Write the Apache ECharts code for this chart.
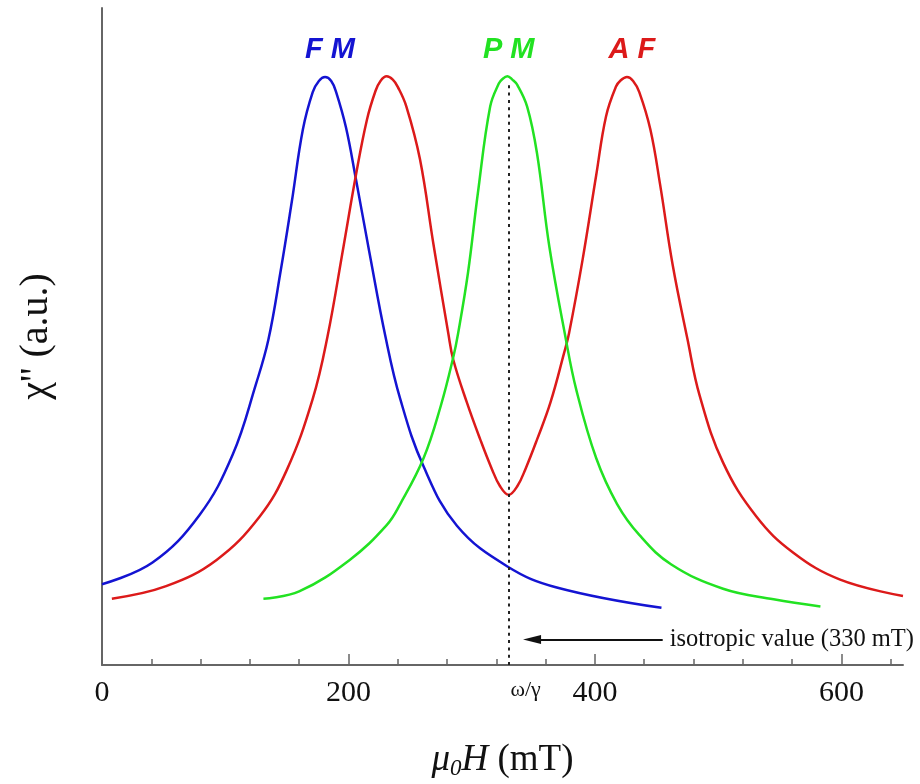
<!DOCTYPE html>
<html>
<head>
<meta charset="utf-8">
<script src="https://cdn.jsdelivr.net/npm/echarts@6/dist/echarts.min.js"></script>
<style>
  html, body { margin: 0; padding: 0; background: #ffffff; }
  #chart { width: 920px; height: 784px; }
</style>
</head>
<body>
<div id="chart"></div>
<script>
// Absorption spectra chi'' versus applied field (mT)
const fieldFM = [0, 41, 79, 106, 125, 135, 145, 154, 163, 171, 176, 181, 186, 190, 198, 206, 217, 230, 242, 261, 288, 329, 369, 454];
const chiFM   = [0.123, 0.156, 0.228, 0.320, 0.428, 0.495, 0.600, 0.705, 0.815, 0.872, 0.889, 0.895, 0.889, 0.872, 0.818, 0.740, 0.628, 0.500, 0.405, 0.302, 0.212, 0.150, 0.118, 0.087];

const fieldAF = [8, 52, 93, 128, 150, 171, 183, 196, 206, 215, 222, 226, 231, 236, 240, 247, 258, 269, 281, 285, 296, 307, 316, 323, 330, 337, 344, 353, 364, 375, 379, 390, 401, 409, 417, 421, 426, 431, 436, 445, 453, 463, 475, 485, 504, 531, 561, 599, 650];
const chiAF   = [0.101, 0.120, 0.160, 0.226, 0.297, 0.405, 0.500, 0.637, 0.745, 0.830, 0.874, 0.889, 0.896, 0.891, 0.880, 0.850, 0.770, 0.640, 0.505, 0.465, 0.400, 0.343, 0.300, 0.272, 0.259, 0.272, 0.300, 0.343, 0.400, 0.475, 0.505, 0.617, 0.745, 0.835, 0.880, 0.890, 0.895, 0.889, 0.872, 0.815, 0.730, 0.610, 0.497, 0.410, 0.308, 0.226, 0.171, 0.130, 0.105];

const fieldPM = [131, 160, 201, 231, 242, 261, 275, 285, 289, 297, 305, 315, 322, 325, 329, 333, 337, 345, 353, 363, 376, 385, 401, 418, 436, 462, 504, 545, 583];
const chiPM   = [0.101, 0.112, 0.160, 0.213, 0.245, 0.315, 0.395, 0.468, 0.505, 0.597, 0.718, 0.850, 0.885, 0.892, 0.896, 0.891, 0.883, 0.850, 0.779, 0.637, 0.500, 0.418, 0.315, 0.245, 0.198, 0.153, 0.116, 0.100, 0.089];

const tickValues = [0, 200, 400, 600];
const fieldMax = 650;
const isotropicField = 330;      // omega/gamma
const arrowStart = 455;          // field where the annotation arrow begins
const arrowEnd = 349;            // field where the arrow head sits
const arrowLevel = 0.039;
const labelLevel = 0.936;
const phaseLabels = [
  { text: 'F M', field: 185, color: '#1414d2' },
  { text: 'P M', field: 330, color: '#22e222' },
  { text: 'A F', field: 430, color: '#dc1a1a' }
];

const zip = (xs, ys) => xs.map((x, i) => [x, ys[i]]);
const serif = '"Liberation Serif", "DejaVu Serif", serif';

const chart = echarts.init(document.getElementById('chart'), null, { renderer: 'canvas' });

const lineBase = { type: 'line', showSymbol: false, symbol: 'none', smooth: 0.4, z: 3 };

chart.setOption({
  backgroundColor: '#ffffff',
  animation: false,
  grid: { left: 102, right: 17, top: 8, bottom: 119, containLabel: false, outerBoundsMode: 'none' },
  xAxis: {
    type: 'value',
    min: 0,
    max: fieldMax,
    interval: 200,
    axisLine: { show: true, lineStyle: { color: '#666', width: 2 } },
    axisTick: { show: true, inside: true, length: 11, customValues: tickValues, lineStyle: { color: '#666', width: 1.5 } },
    minorTick: { show: true, splitNumber: 5, length: 6, lineStyle: { color: '#666', width: 1.5 } },
    axisLabel: { customValues: tickValues, margin: 13, fontFamily: serif, fontSize: 30, color: '#111' },
    splitLine: { show: false },
    minorSplitLine: { show: false },
    name: '{i|μ}{s|0}{i|H} (mT)',
    nameLocation: 'middle',
    nameGap: 76,
    nameTextStyle: {
      fontFamily: serif, fontSize: 37, color: '#111',
      rich: {
        i: { fontFamily: serif, fontSize: 37, fontStyle: 'italic', color: '#111' },
        s: { fontFamily: serif, fontSize: 23, fontStyle: 'italic', color: '#111', verticalAlign: 'bottom', padding: [16, 0, 0, 0] }
      }
    }
  },
  yAxis: {
    type: 'value',
    min: 0,
    max: 1,
    axisLine: { show: true, lineStyle: { color: '#666', width: 2 } },
    axisTick: { show: false },
    axisLabel: { show: false },
    splitLine: { show: false },
    name: 'χ\'\' (a.u.)',
    nameLocation: 'middle',
    nameGap: 46,
    nameTextStyle: { fontFamily: serif, fontSize: 40, color: '#111' }
  },
  series: [
    Object.assign({}, lineBase, {
      name: 'FM',
      data: zip(fieldFM, chiFM),
      lineStyle: { color: '#1414d2', width: 2.5 },
      markLine: {
        silent: true,
        animation: false,
        symbol: ['none', 'triangle'],
        symbolSize: [0, 0],
        data: [[
          { coord: [arrowStart, arrowLevel], symbol: 'none' },
          { coord: [arrowEnd, arrowLevel], symbol: 'triangle', symbolSize: [9, 18] }
        ]],
        lineStyle: { color: '#111', width: 2, type: 'solid' },
        label: {
          show: true, position: 'start', distance: 7,
          formatter: 'isotropic value (330 mT)',
          fontFamily: serif, fontSize: 24.5, color: '#111'
        }
      }
    }),
    Object.assign({}, lineBase, {
      name: 'AF',
      data: zip(fieldAF, chiAF),
      lineStyle: { color: '#dc1a1a', width: 2.5 }
    }),
    Object.assign({}, lineBase, {
      name: 'PM',
      data: zip(fieldPM, chiPM),
      lineStyle: { color: '#22e222', width: 2.5 },
      markLine: {
        silent: true,
        animation: false,
        symbol: ['none', 'none'],
        data: [[{ coord: [isotropicField, 0] }, { coord: [isotropicField, 0.885] }]],
        lineStyle: { color: '#222', width: 2, type: [3, 4.3] },
        label: { show: false }
      },
      markPoint: {
        silent: true,
        animation: false,
        symbol: 'circle',
        symbolSize: 0,
        data: [
          {
            coord: [isotropicField, 0],
            label: { show: true, formatter: 'ω/γ', offset: [17, 25], fontFamily: serif, fontSize: 22, color: '#111' }
          }
        ].concat(phaseLabels.map(p => ({
          coord: [p.field, labelLevel],
          label: {
            show: true, formatter: p.text, color: p.color,
            fontFamily: '"Liberation Sans", Arial, sans-serif',
            fontSize: 29, fontWeight: 'bold', fontStyle: 'italic'
          }
        })))
      }
    })
  ]
});
</script>
</body>
</html>
